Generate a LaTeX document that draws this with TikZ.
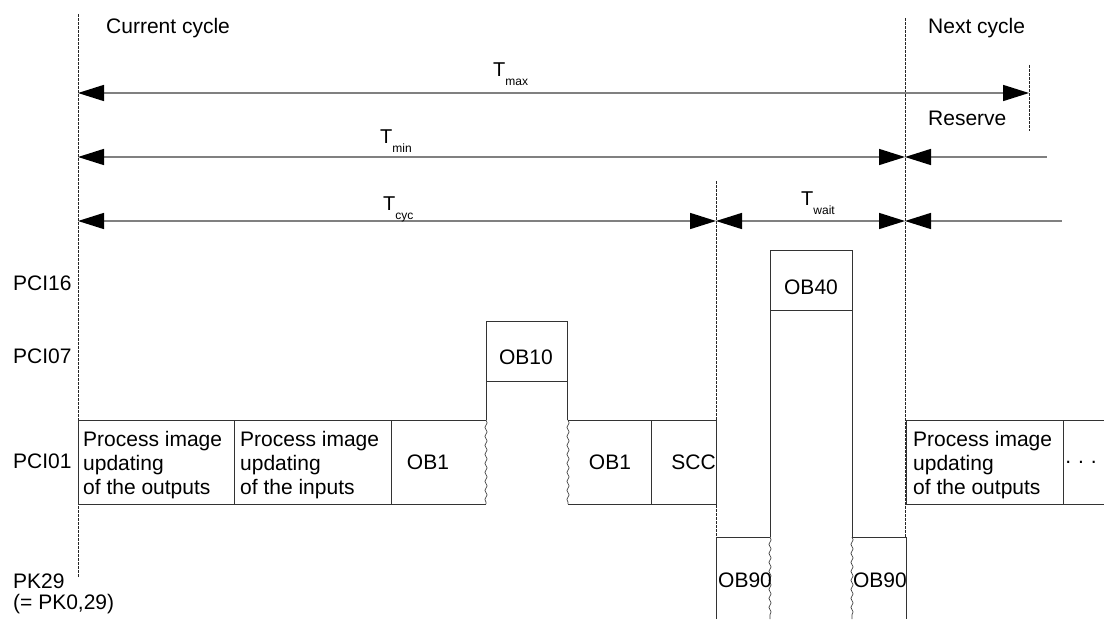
\documentclass[tikz,border=0pt]{standalone}
\usepackage{fontspec}
\setmainfont{Liberation Sans}
\usetikzlibrary{arrows.meta,decorations.pathmorphing}
\newcommand{\Tsub}[1]{T\raisebox{-9pt}{\fontsize{12}{12}\selectfont #1}}
\begin{document}
\begin{tikzpicture}[x=1pt,y=-1pt,
  box/.style={draw=black!80, line width=0.8pt},
  wavy/.style={draw=black!75, line width=0.7pt, decorate,
    decoration={snake, segment length=9pt, amplitude=1.1pt}},
  cyc/.style={draw=black!85, line width=0.7pt, dash pattern=on 2.5pt off 1.5pt},
  dim/.style={draw=black!50, line width=1.5pt},
  both/.style={dim, {Triangle[length=26pt,width=16pt,color=black]}-{Triangle[length=26pt,width=16pt,color=black]}},
  left/.style={dim, {Triangle[length=26pt,width=16pt,color=black]}-},
  txt/.style={font=\fontsize{21}{24}\selectfont, inner sep=0pt},
  tlab/.style={font=\fontsize{20}{20}\selectfont, inner sep=0pt, anchor=base west},
  multi/.style={txt, align=left, anchor=north west}]
\useasboundingbox (0,0) rectangle (1104,619);

% cycle boundaries
\coordinate (c0t) at (78,14);   \coordinate (c0b) at (78,577);
\coordinate (c1t) at (905,18);  \coordinate (c1b) at (905,537);
\coordinate (wt) at (716,181);  \coordinate (wb) at (716,537);
\coordinate (rt) at (1029,65);  \coordinate (rb) at (1029,131);
\draw[cyc] (c0t) -- (c0b);
\draw[cyc] (c1t) -- (c1b);
\draw[cyc] (wt) -- (wb);
\draw[cyc] (rt) -- (rb);

% dimension arrows
\coordinate (max0) at (78,93);  \coordinate (max1) at (1029,93);
\coordinate (min0) at (78,157); \coordinate (min1) at (905,157); \coordinate (min2) at (1047,157);
\coordinate (cy0) at (78,221);  \coordinate (cy1) at (716,221);
\coordinate (cy2) at (905,221); \coordinate (cy3) at (1062,221);
\draw[both] (max0) -- (max1);
\draw[both] (min0) -- (min1);
\draw[left] (min1) -- (min2);
\draw[both] (cy0) -- (cy1);
\draw[both] (cy1) -- (cy2);
\draw[left] (cy2) -- (cy3);

\node[tlab] (tmax) at (493,76) {\Tsub{max}};
\node[tlab] (tmin) at (380,143) {\Tsub{min}};
\node[tlab] (tcyc) at (383,210) {\Tsub{cyc}};
\node[tlab] (twait) at (801,205) {\Tsub{wait}};

\node[txt, anchor=base west] (cur) at (106,33) {Current cycle};
\node[txt, anchor=base west] (nxt) at (928,33) {Next cycle};
\node[txt, anchor=base west] (res) at (928,125) {Reserve};

% row labels
\node[txt, anchor=west] (r16) at (13,283) {PCI16};
\node[txt, anchor=west] (r07) at (13,356) {PCI07};
\node[txt, anchor=west] (r01) at (13,461) {PCI01};
\node[font=\fontsize{21}{21}\selectfont, inner sep=0pt, align=left, anchor=north west] (rpk) at (13,574) {PK29\\(= PK0,29)};

% PCI01 row, current cycle
\draw[box] (486,420) -- (78,420) -- (78,504) -- (486,504);
\draw[box] (234,420) -- (234,504);
\draw[box] (391,420) -- (391,504);
\draw[wavy] (486,420) -- (486,504);
\node[multi] (piout) at (83,431) {Process image\\updating\\of the outputs};
\node[multi] (piin) at (240,431) {Process image\\updating\\of the inputs};
\node[txt] (ob1a) at (428,462) {OB1};

% OB10 (PCI07)
\draw[box] (486,420) -- (486,321) -- (567,321) -- (567,420);
\draw[box] (486,381) -- (567,381);
\node[txt] (ob10) at (526,357) {OB10};

\draw[wavy] (568,420) -- (568,504);
\draw[box] (568,420) -- (716,420) -- (716,504) -- (568,504);
\draw[box] (651,420) -- (651,504);
\node[txt] (ob1b) at (610,462) {OB1};
\node[txt, anchor=east] (scc) at (716,462) {SCC};

% OB40 (PCI16)
\draw[box] (770,537) -- (770,250) -- (852,250) -- (852,537);
\draw[box] (770,310) -- (852,310);
\node[txt] (ob40) at (811,287) {OB40};

% OB90 (PK29)
\draw[box] (716,619) -- (716,537) -- (770,537);
\draw[wavy] (770,537) -- (770,619);
\node[txt, anchor=west] (ob90a) at (718,580) {OB90};
\draw[box] (852,537) -- (906,537) -- (906,619);
\draw[wavy] (852,537) -- (852,619);
\node[txt, anchor=east] (ob90b) at (907,580) {OB90};

% next cycle
\draw[box] (1104,420) -- (906,420) -- (906,504) -- (1104,504);
\draw[box] (1063,420) -- (1063,504);
\node[multi] (piout2) at (913,431) {Process image\\updating\\of the outputs};
\node[txt] (dots) at (1081,462) {.\,\,.\,\,.};
\end{tikzpicture}
\end{document}
